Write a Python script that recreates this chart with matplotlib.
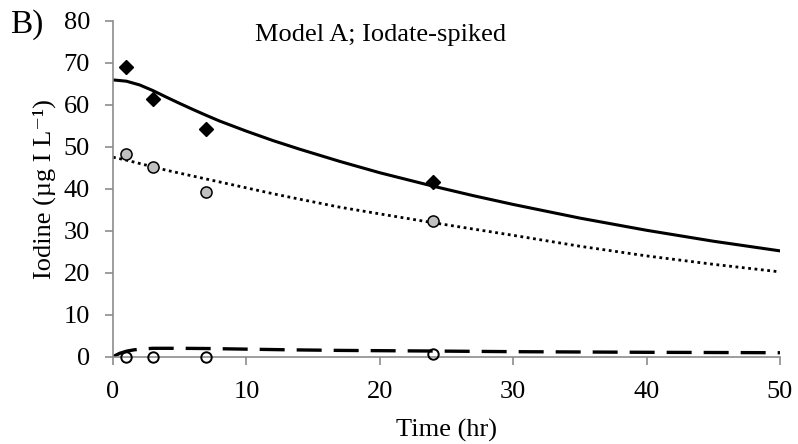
import matplotlib
matplotlib.use("Agg")
import matplotlib.pyplot as plt

plt.rcParams["font.family"] = ["Liberation Serif", "DejaVu Serif"]

# measured concentrations (ug I / L)
t_obs = [1, 3, 7, 24]
total_obs = [69.0, 61.3, 54.1, 41.7]
iodate_obs = [48.2, 45.2, 39.3, 32.3]
iodide_obs = [0.0, 0.0, 0.0, 0.6]

# model A curves
t_model = [0, 1, 2, 3, 4, 5, 6, 7, 8, 10, 12, 14, 17, 20, 24, 27, 30, 35, 40, 45, 50]
total_model = [65.9, 65.6, 64.7, 63.35, 61.8, 60.3, 58.85, 57.45, 56.1, 53.7, 51.45, 49.4,
               46.5, 43.8, 40.6, 38.35, 36.25, 33.0, 30.1, 27.5, 25.2]
iodate_model = [47.5, 46.8, 46.0, 45.2, 44.4, 43.7, 43.0, 42.3, 41.6, 40.2, 38.8, 37.5,
                35.6, 34.0, 31.9, 30.4, 28.9, 26.3, 24.0, 22.0, 20.2]
t_iodide = [0, 0.5, 1, 1.5, 2, 3, 5, 7, 10, 13, 17, 24, 30, 40, 50]
iodide_model = [0.0, 0.8, 1.3, 1.6, 1.8, 2.0, 2.0, 1.95, 1.8, 1.65, 1.5, 1.35, 1.2, 1.05, 0.95]

grey = "#8c8c8c"

fig = plt.figure(figsize=(7.98, 4.44), dpi=100)
ax = fig.add_axes([0.1416, 0.1966, 0.8358, 0.7568])

ax.plot(t_model, total_model, color="black", linewidth=2.2, zorder=2)
ax.plot(t_model, iodate_model, color="black", linewidth=2.0,
        linestyle=(0, (1.0, 1.3)), zorder=2)
ax.plot(t_iodide, iodide_model, color="black", linewidth=2.4,
        linestyle=(0, (7.5, 3.6)), zorder=2)

ax.plot(t_obs, total_obs, linestyle="none", marker="D", markersize=7.5,
        color="black", zorder=4, clip_on=False)
ax.plot(t_obs, iodate_obs, linestyle="none", marker="o", markersize=8,
        markerfacecolor="#c0c0c0", markeredgecolor="black", markeredgewidth=1.1,
        zorder=4, clip_on=False)
ax.plot(t_obs, iodide_obs, linestyle="none", marker="o", markersize=7.5,
        markerfacecolor="none", markeredgecolor="black", markeredgewidth=1.4,
        zorder=4, clip_on=False)

ax.set_xlim(0, 50)
ax.set_ylim(0, 80)
ax.set_xticks(range(0, 51, 10))
ax.set_yticks(range(0, 81, 10))

for side in ["top", "right"]:
    ax.spines[side].set_visible(False)
for side in ["left", "bottom"]:
    ax.spines[side].set_color(grey)
    ax.spines[side].set_linewidth(1.2)

ax.tick_params(axis="both", direction="out", length=5.5, width=1.2, color=grey,
               labelsize=19, labelcolor="black")
ax.tick_params(axis="x", pad=12)
ax.tick_params(axis="y", pad=11)

ax.set_xlabel("Time (hr)", fontsize=19)
ax.set_ylabel("Iodine (µg I L⁻¹)", fontsize=19)
ax.xaxis.set_label_coords(0.5, -0.186)
ax.yaxis.set_label_coords(-0.085, 0.5)

fig.text(381 / 798, 1 - 41 / 444, "Model A; Iodate-spiked", fontsize=19,
         ha="center", va="baseline")
fig.text(10 / 798, 1 - 33 / 444, "B)", fontsize=24, ha="left", va="baseline")

fig.savefig("out.png", dpi=100)
